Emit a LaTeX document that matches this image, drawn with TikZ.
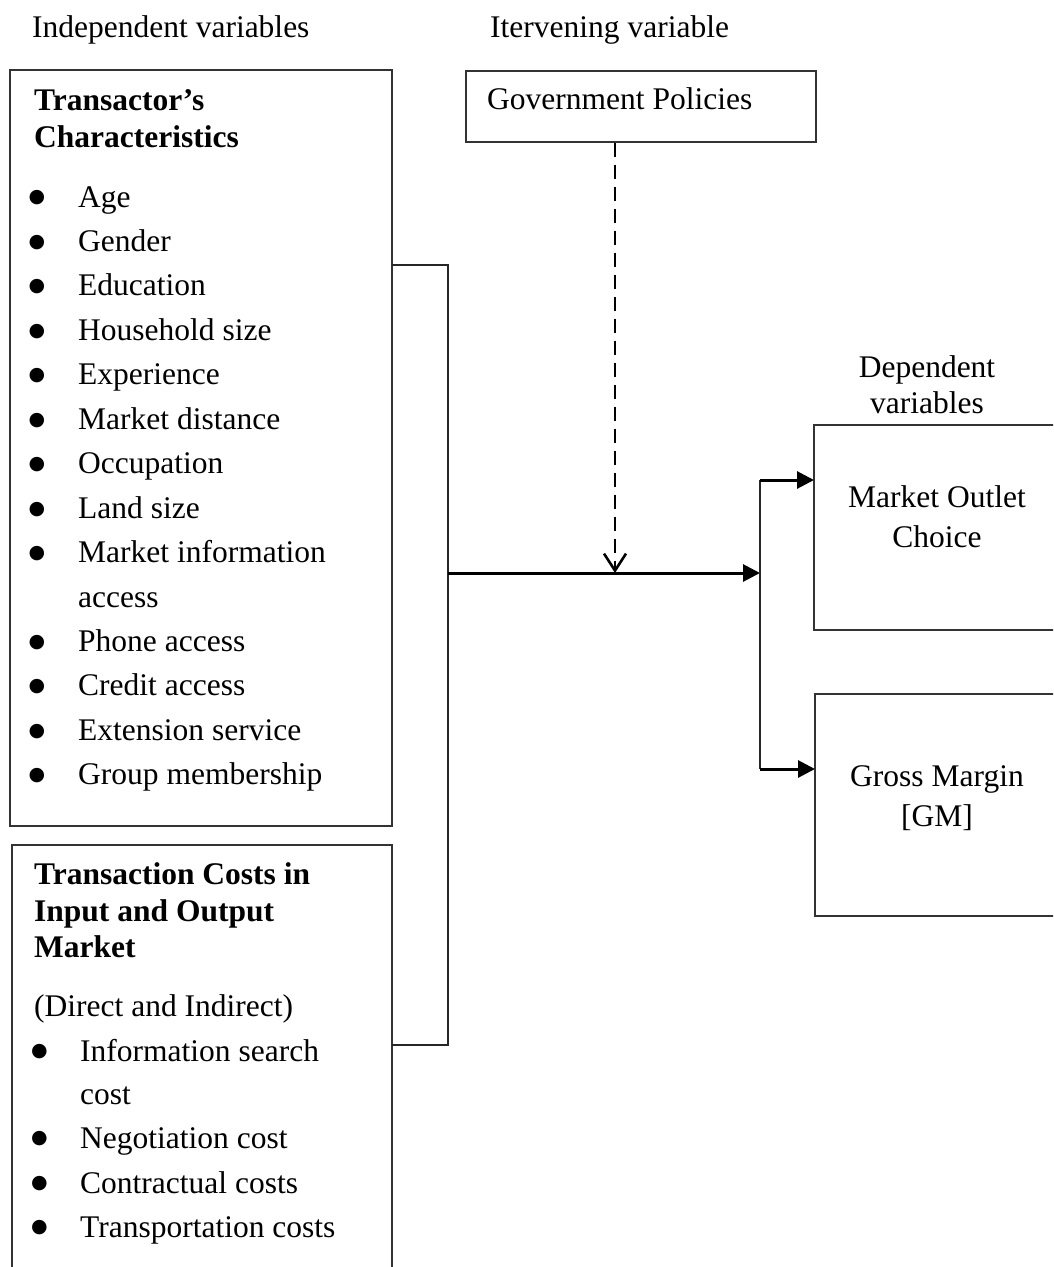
\documentclass[tikz,border=0pt]{standalone}
\usepackage{fontspec}
\setmainfont{Liberation Serif}
\newfontfamily\symfont{DejaVu Sans}
\usetikzlibrary{arrows.meta}
\begin{document}
\begin{tikzpicture}[x=1pt,y=-1pt,
  txt/.style={font=\fontsize{31.5}{44.5}\selectfont, inner sep=0pt, anchor=base west},
  ctxt/.style={font=\fontsize{31.5}{44.5}\selectfont, inner sep=0pt, anchor=base},
  btxt/.style={txt, font=\fontsize{31.5}{44.5}\selectfont\bfseries},
  bul/.style={font=\symfont\fontsize{19}{19}\selectfont, inner sep=0pt, anchor=center},
  boxline/.style={draw=black!80, line width=1.6pt},
  conn/.style={draw=black!85, line width=1.6pt},
  thick conn/.style={draw=black, line width=3pt},
  filltip/.style={-{Triangle[length=17pt,width=17pt]}},
  opentip/.style={-{Straight Barb[length=17pt,width=22pt,line width=2.6pt]}}
]
\useasboundingbox (0,0) rectangle (1053,1267);
\fill[white] (0,0) rectangle (1053,1267);
\begin{scope}
\clip (0,0) rectangle (1053,1267);

% headers
\node[txt] (hind) at (32,37) {Independent variables};
\node[txt] (hint) at (490,37) {Itervening variable};

% box 1
\draw[boxline] (10,70) rectangle (392,826);
\node[btxt] (t1a) at (34,110) {Transactor’s};
\node[btxt] (t1b) at (34,147) {Characteristics};
\foreach \i/\t [count=\k from 0] in {a/Age,b/Gender,c/Education,d/Household size,e/Experience,f/Market distance,g/Occupation,h/Land size,i/Market information,k/Phone access,l/Credit access,m/Extension service,n/Group membership}{
  \pgfmathsetmacro{\yy}{207+44.45*\k+(\k>8)*44.45}
  \node[bul] (bu\i) at (37,\yy-9) {●};
  \node[txt] (it\i) at (78,\yy) {\t};
}
\node[txt] (itj) at (78,607) {access};

% box 2
\draw[boxline] (12,1300) -- (12,845) -- (392,845) -- (392,1300);
\node[btxt] (t2a) at (34,884) {Transaction Costs in};
\node[btxt] (t2b) at (34,921) {Input and Output};
\node[btxt] (t2c) at (34,957) {Market};
\node[txt] (t2d) at (34,1016) {(Direct and Indirect)};
\node[bul] (bv1) at (39.5,1052) {●};
\node[txt] (iv1) at (80,1061) {Information search};
\node[txt] (iv1b) at (80,1104) {cost};
\node[bul] (bv2) at (39.5,1139) {●};
\node[txt] (iv2) at (80,1148) {Negotiation cost};
\node[bul] (bv3) at (39.5,1184) {●};
\node[txt] (iv3) at (80,1193) {Contractual costs};
\node[bul] (bv4) at (39.5,1228) {●};
\node[txt] (iv4) at (80,1237) {Transportation costs};

% government policies
\node[boxline, minimum width=350pt, minimum height=71pt, inner sep=0pt, anchor=north west] (gov) at (465,70) {};
\node[txt] (govt) at (487,109) {Government Policies};

% dependent
\node[ctxt] (dep1) at (927,377) {Dependent};
\node[ctxt] (dep2) at (927,413) {variables};

\draw[boxline] (1100,425) -- (814,425) -- (814,630) -- (1100,630);
\coordinate (mo) at (814,480);
\node[ctxt] (mo1) at (937,507) {Market Outlet};
\node[ctxt] (mo2) at (937,547) {Choice};

\draw[boxline] (1100,694) -- (815,694) -- (815,916) -- (1100,916);
\coordinate (gm) at (815,769);
\node[ctxt] (gm1) at (937,786) {Gross Margin};
\node[ctxt] (gm2) at (937,826) {[GM]};

% bracket
\coordinate (br1) at (392,265);
\coordinate (br2) at (448,265);
\coordinate (br3) at (448,1045);
\coordinate (br4) at (392,1045);
\draw[conn] (br1) -- (br2) -- (br3) -- (br4);

% main arrow
\coordinate (ms) at (448,573);
\coordinate (me) at (760,573);
\draw[thick conn, filltip] (ms) -- (me);

% split
\coordinate (sp1) at (760,480);
\coordinate (sp2) at (760,769);
\draw[conn] (sp1) -- (sp2);
\draw[thick conn, filltip] (sp1) -- (mo);
\draw[thick conn, filltip] (sp2) -- (gm);

% dashed
\coordinate (dend) at (615,573);
\draw[draw=black, line width=2.6pt, dash pattern=on 14pt off 8pt, opentip] (gov.south -| dend) -- (dend);
\end{scope}
\end{tikzpicture}
\end{document}
